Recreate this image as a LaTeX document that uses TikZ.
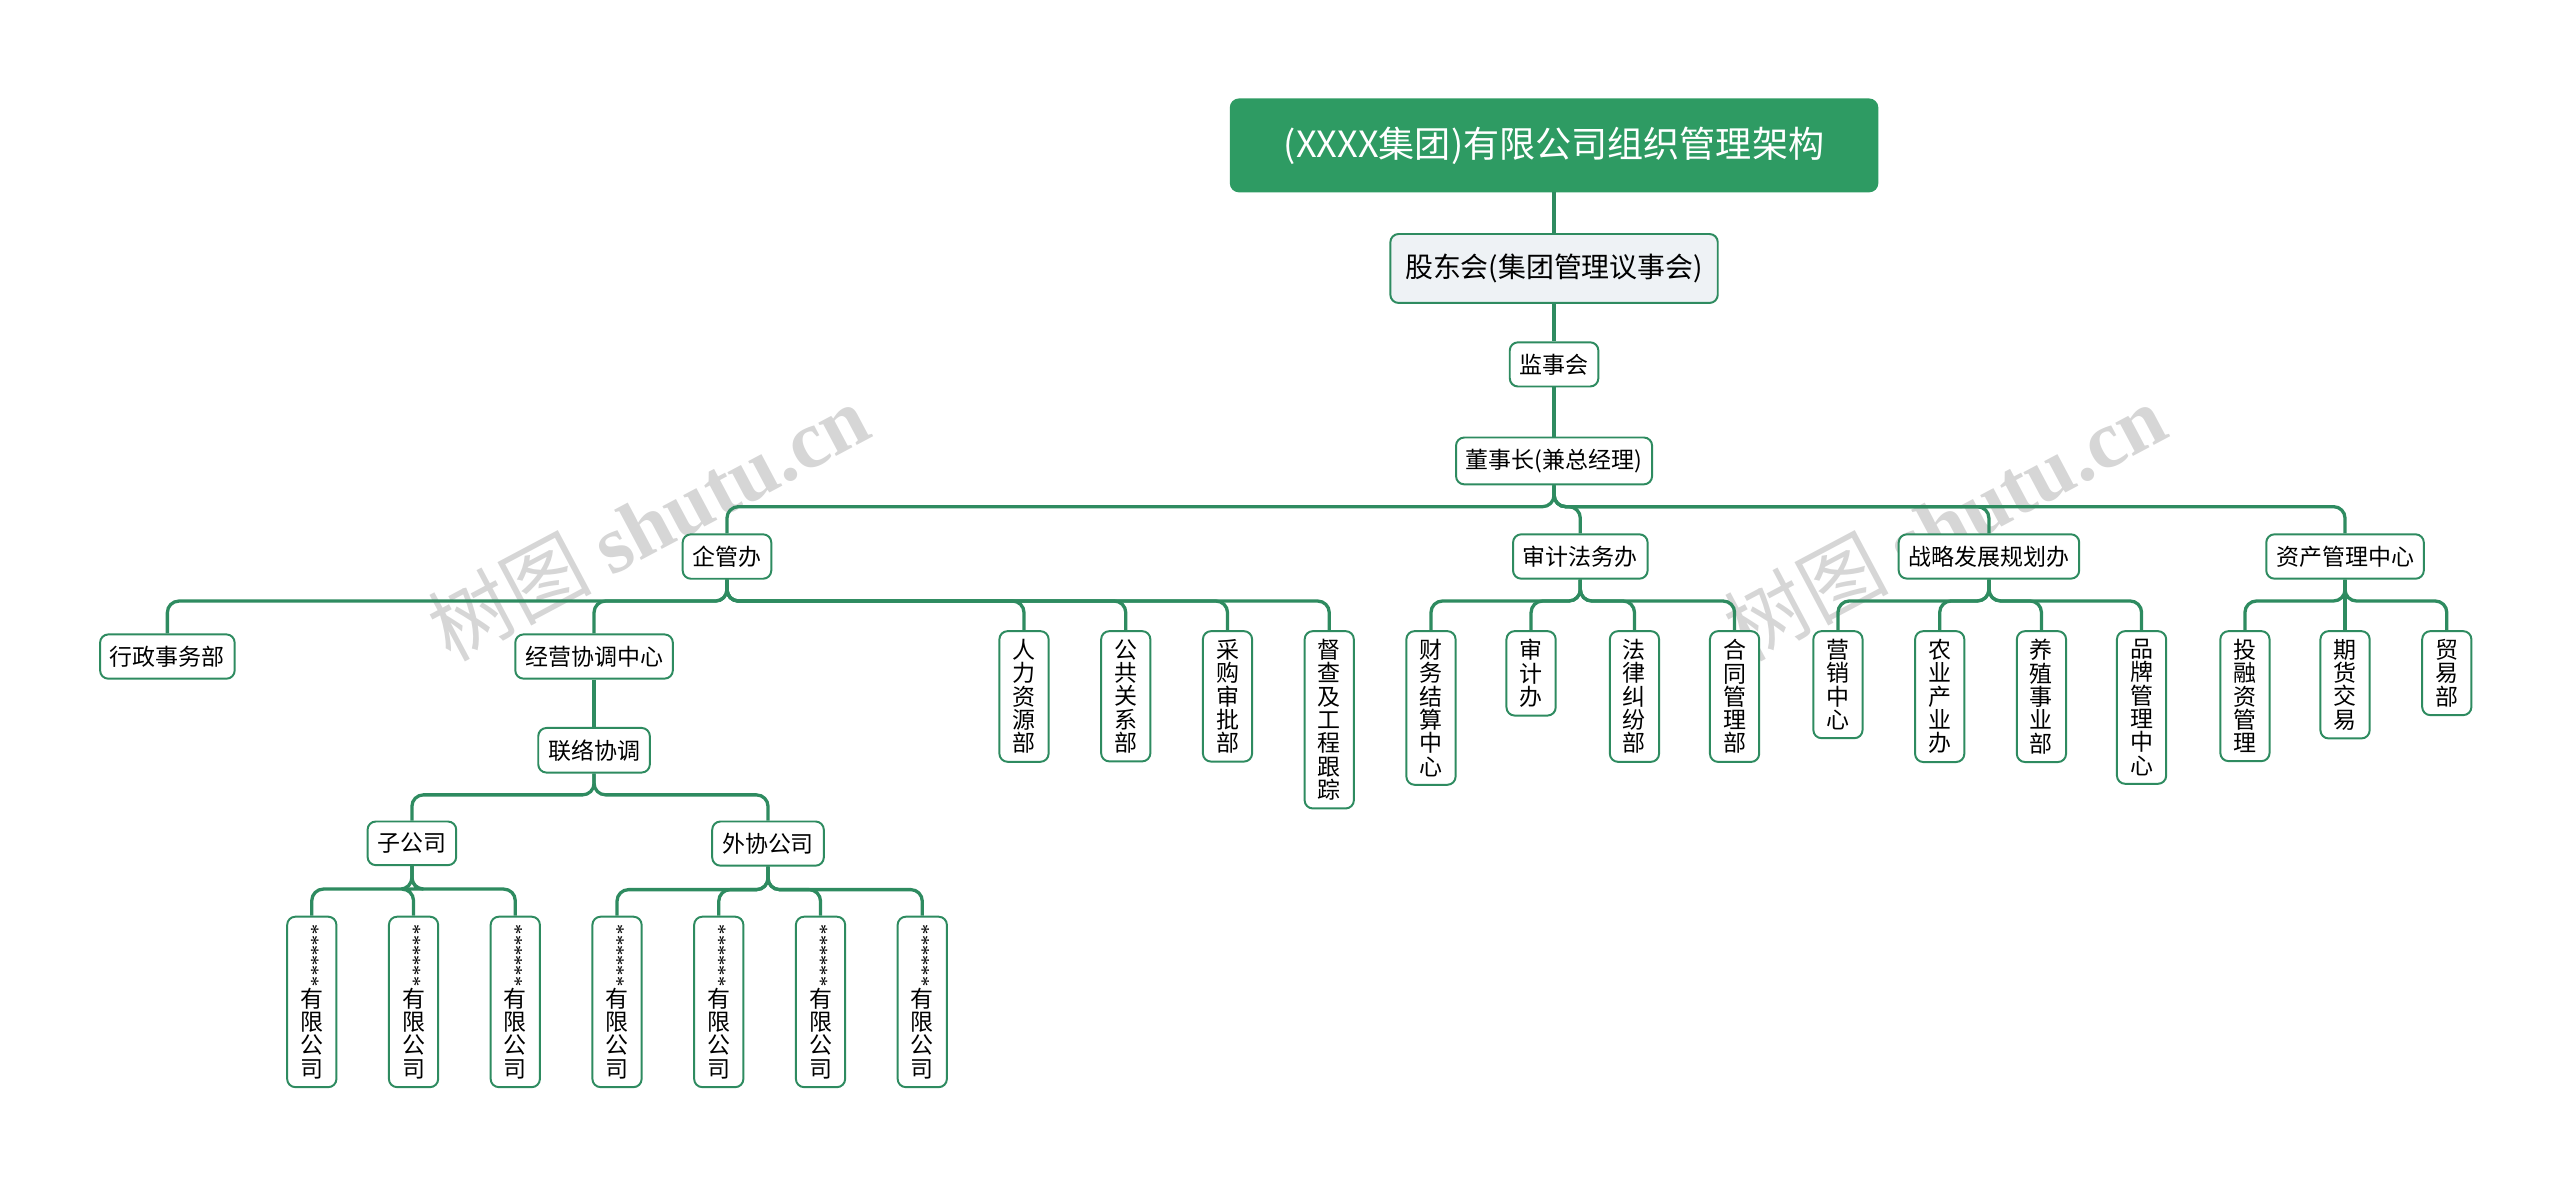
\documentclass[tikz,border=0pt]{standalone}
\usepackage{fontspec}
\setmainfont{Noto Sans CJK SC}
\newfontfamily\markfont{Liberation Serif}
\usepackage{graphicx}
\definecolor{linkgreen}{RGB}{46,139,96}
\definecolor{titlegreen}{RGB}{46,155,99}
\definecolor{paleblue}{RGB}{238,242,245}
\newcommand{\stars}{\rotatebox[origin=c]{-90}{\fontsize{12.5}{12.5}\selectfont\markfont ******}}
\tikzset{
  box/.style={draw=linkgreen, line width=1.2pt, rounded corners=5pt, fill=white,
    font=\fontsize{14}{15}\selectfont, inner xsep=6pt, inner ysep=7pt, anchor=north},
  vbox/.style={box, align=center, inner xsep=8pt, inner ysep=5pt, text width=14pt,
    font=\fontsize{14}{14.2}\selectfont},
  link/.style={draw=linkgreen, line width=2pt, rounded corners=7pt}
}
\begin{document}
\begin{tikzpicture}[x=1pt,y=-1pt]
  \useasboundingbox (0,0) rectangle (1560,723);

  % Wasserzeichen
  \foreach \wx in {395,1185}
    \node[text=black!16, rotate=28, font=\fontsize{50}{50}\selectfont] at (\wx,318) {树图 {\markfont\bfseries shutu.cn}};

  % Kopf
  \node[box, fill=titlegreen, draw=titlegreen, text=white, font=\fontsize{22}{24}\selectfont,
        minimum width=394pt, minimum height=56pt] (title) at (947,60) {(XXXX集团)有限公司组织管理架构};
  \node[box, fill=paleblue, font=\fontsize{17}{18}\selectfont, minimum height=42pt, inner xsep=9pt] (holders) at (947,142) {股东会(集团管理议事会)};
  \node[box] (supervisors) at (947,208) {监事会};
  \node[box] (chairman) at (947,266) {董事长(兼总经理)};

  % zweite Ebene
  \node[box] (qg)   at (443,325) {企管办};
  \node[box] (sj)   at (963,325) {审计法务办};
  \node[box] (zl)   at (1212,325) {战略发展规划办};
  \node[box] (zc)   at (1429,325) {资产管理中心};

  % unter 企管办
  \node[box] (xz)   at (102,386) {行政事务部};
  \node[box] (jy)   at (362,386) {经营协调中心};
  \node[vbox] (rl)  at (624,384) {人\\力\\资\\源\\部};
  \node[vbox] (gg)  at (686,384) {公\\共\\关\\系\\部};
  \node[vbox] (cg)  at (748,384) {采\\购\\审\\批\\部};
  \node[vbox] (dc)  at (810,384) {督\\查\\及\\工\\程\\跟\\踪};
  \node[box] (ll)   at (362,443) {联络协调};
  \node[box] (zgs)  at (251,500) {子公司};
  \node[box] (wx)   at (468,500) {外协公司};
  \foreach \n/\cx in {za/190,zb/252,zc2/314,wa/376,wb/438,wc/500,wd/562}
    \node[vbox] (\n) at (\cx,558) {\stars\\[0pt]有\\限\\公\\司};

  % unter 审计法务办
  \node[vbox] (cw)  at (872,384) {财\\务\\结\\算\\中\\心};
  \node[vbox] (sjb) at (933,384) {审\\计\\办};
  \node[vbox] (fl)  at (996,384) {法\\律\\纠\\纷\\部};
  \node[vbox] (ht)  at (1057,384) {合\\同\\管\\理\\部};

  % unter 战略发展规划办
  \node[vbox] (yx)  at (1120,384) {营\\销\\中\\心};
  \node[vbox] (ny)  at (1182,384) {农\\业\\产\\业\\办};
  \node[vbox] (yz)  at (1244,384) {养\\殖\\事\\业\\部};
  \node[vbox] (pp)  at (1305,384) {品\\牌\\管\\理\\中\\心};

  % unter 资产管理中心
  \node[vbox] (tr)  at (1368,384) {投\\融\\资\\管\\理};
  \node[vbox] (qh)  at (1429,384) {期\\货\\交\\易};
  \node[vbox] (my)  at (1491,384) {贸\\易\\部};

  % Verbindungen
  \draw[link] (title.south) -- (holders.north);
  \draw[link] (holders.south) -- (supervisors.north);
  \draw[link] (supervisors.south) -- (chairman.north);
  \foreach \c in {qg,sj,zl,zc}
    \draw[link] (chairman.south) -- ++(0,13) -| (\c.north);
  \foreach \c in {xz,jy,rl,gg,cg,dc}
    \draw[link] (qg.south) -- ++(0,13) -| (\c.north);
  \draw[link] (jy.south) -- (ll.north);
  \foreach \c in {zgs,wx}
    \draw[link] (ll.south) -- ++(0,13) -| (\c.north);
  \foreach \c in {za,zb,zc2}
    \draw[link] (zgs.south) -- ++(0,14) -| (\c.north);
  \foreach \c in {wa,wb,wc,wd}
    \draw[link] (wx.south) -- ++(0,14) -| (\c.north);
  \foreach \c in {cw,sjb,fl,ht}
    \draw[link] (sj.south) -- ++(0,13) -| (\c.north);
  \foreach \c in {yx,ny,yz,pp}
    \draw[link] (zl.south) -- ++(0,13) -| (\c.north);
  \foreach \c in {tr,qh,my}
    \draw[link] (zc.south) -- ++(0,13) -| (\c.north);
\end{tikzpicture}
\end{document}
